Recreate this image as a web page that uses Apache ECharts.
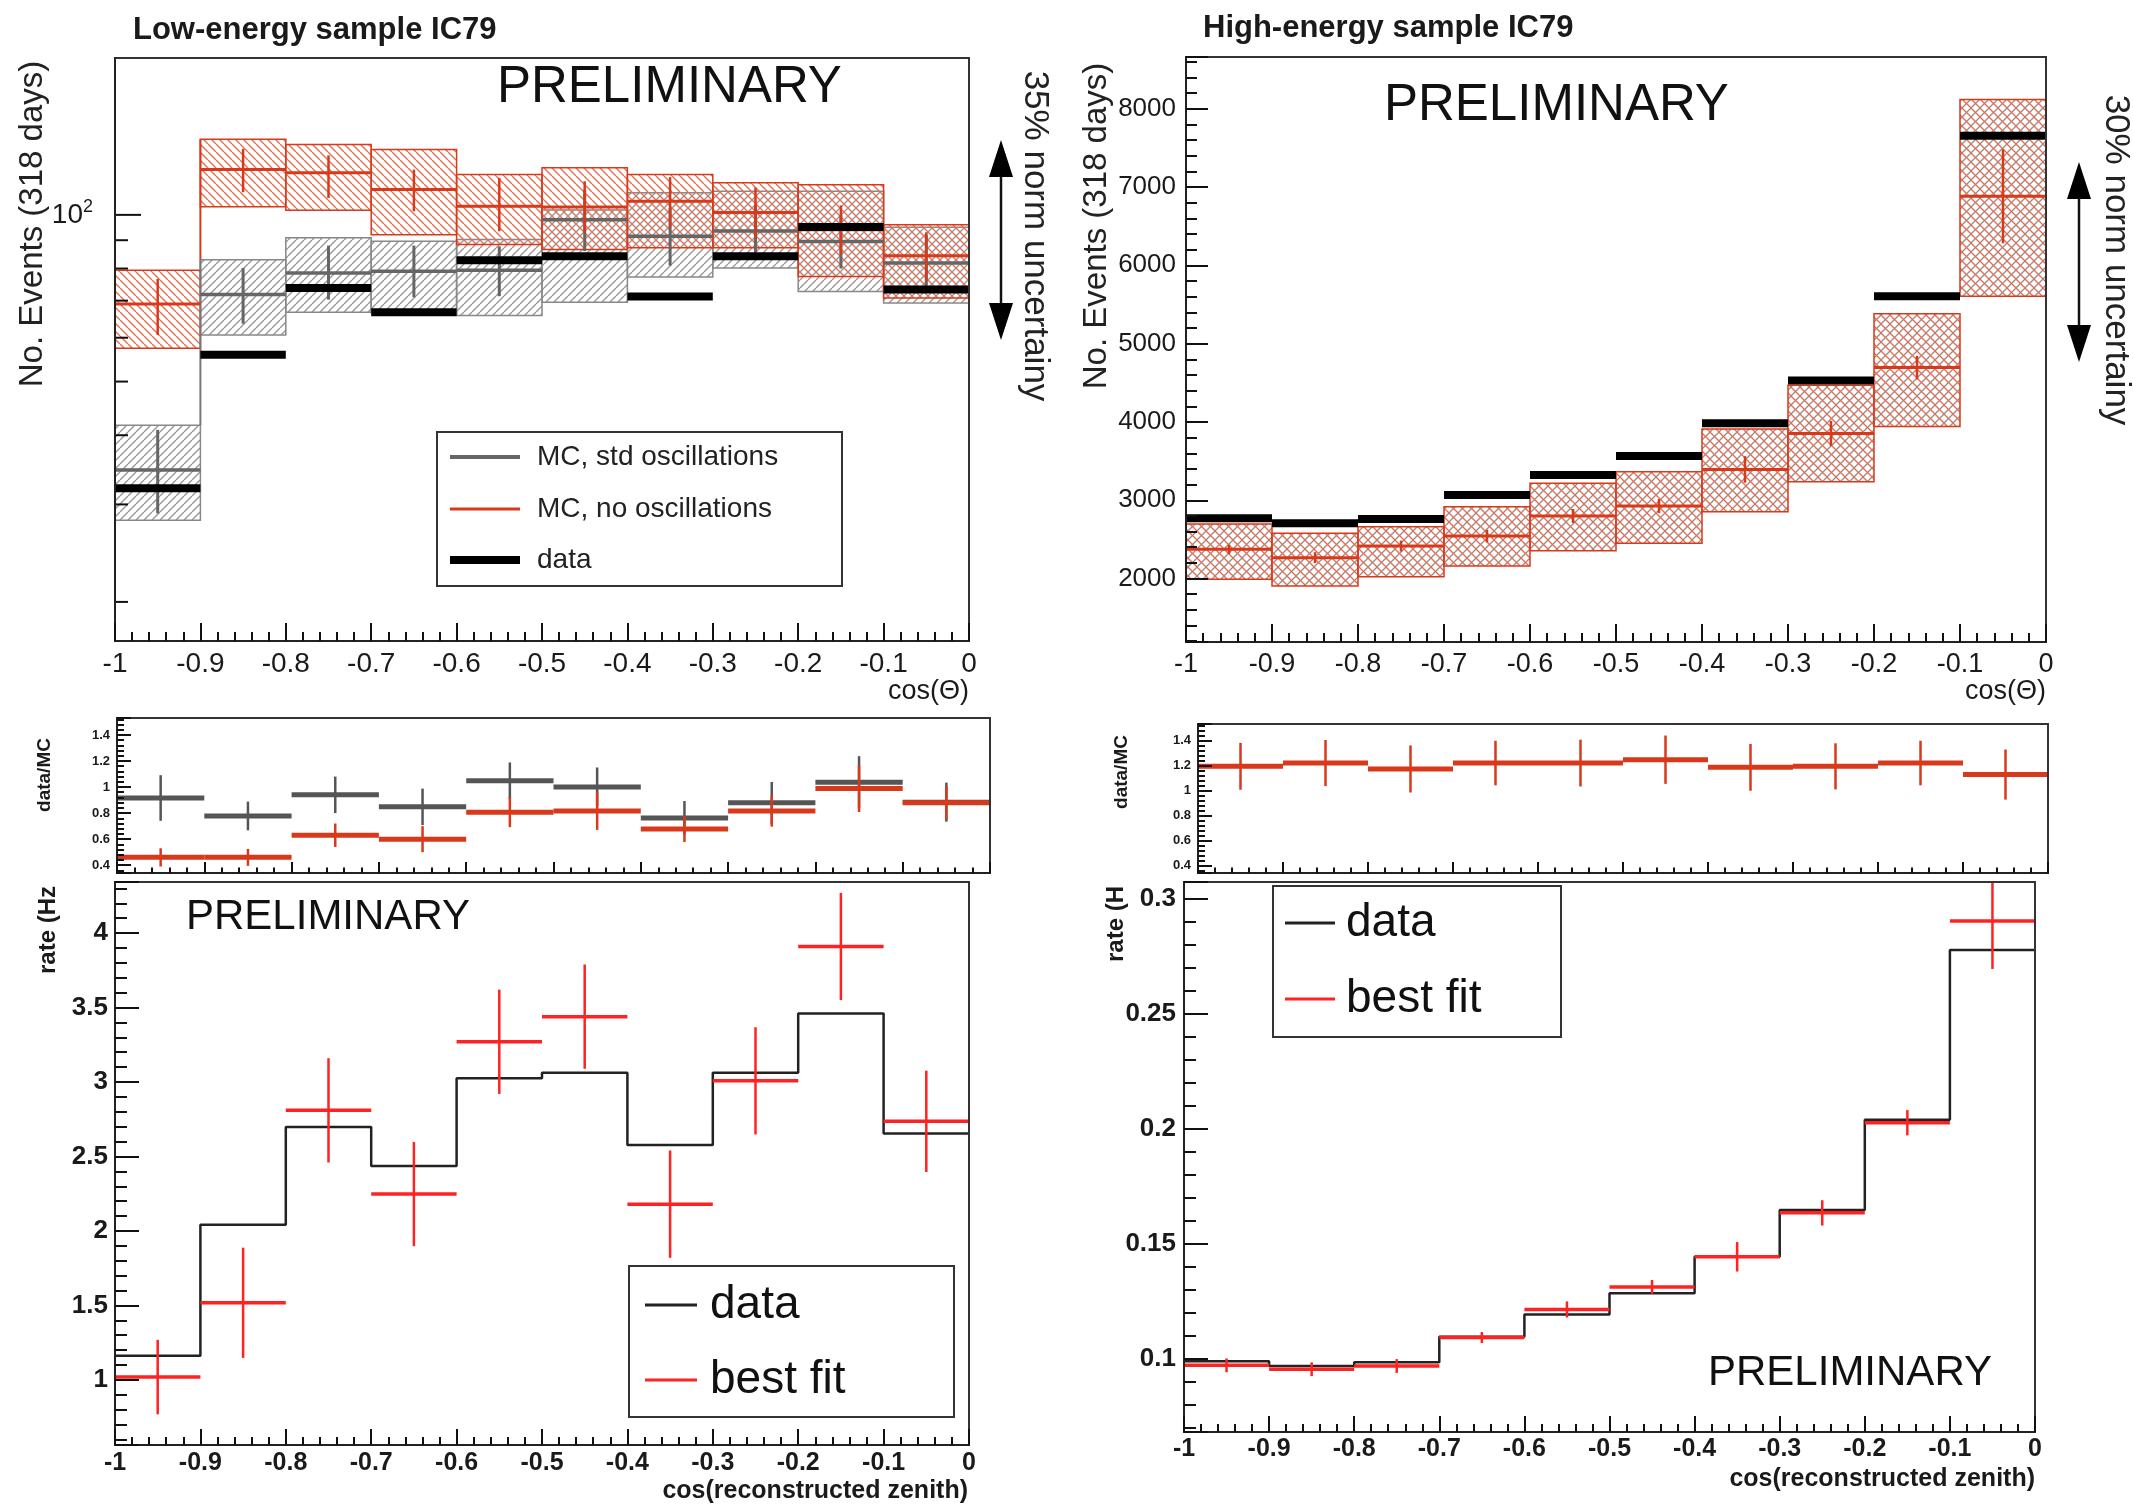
<!DOCTYPE html>
<html><head><meta charset="utf-8">
<script src="https://cdn.jsdelivr.net/npm/echarts@6/dist/echarts.min.js"></script>
<style>html,body{margin:0;padding:0;background:#fff}#c{width:2133px;height:1508px}</style>
</head><body><div id="c"></div>
<script>
// ---------------- DATA ----------------
const binEdges = [-1, -0.9, -0.8, -0.7, -0.6, -0.5, -0.4, -0.3, -0.2, -0.1, 0];

// Low-energy sample, events (log axis)
const leData        = [32.1, 55.9, 73.8, 66.7, 82.8, 84.2, 71.2, 84.2, 95.1, 73.3];
const leStd         = [34.6, 71.8, 78.5, 79.1, 79.4, 98.0, 91.5, 93.5, 89.5, 81.9];
const leStdErrLo    = [28.9, 63.6, 70.3, 71.0, 71.3, 86.0, 81.0, 83.0, 80.0, 73.0];
const leStdErrHi    = [40.9, 80.2, 88.0, 88.0, 87.7, 111.0, 103.0, 104.0, 100.0, 92.0];
const leStdBandLo   = [28.1, 60.7, 66.7, 66.5, 65.8, 69.5, 77.2, 80.2, 72.7, 69.3];
const leStdBandHi   = [41.7, 83.0, 90.9, 89.6, 90.3, 102.0, 109.6, 110.3, 110.3, 95.0];
const leNoOsc       = [69.0, 120.8, 119.1, 111.1, 103.7, 103.3, 105.8, 101.0, 94.0, 84.4];
const leNoOscErrLo  = [60.7, 109.9, 107.3, 101.5, 93.4, 93.0, 95.0, 91.0, 85.0, 76.0];
const leNoOscErrHi  = [76.6, 131.6, 128.1, 120.7, 116.6, 115.0, 117.0, 112.0, 104.0, 93.0];
const leNoOscBandLo = [57.4, 103.4, 101.9, 92.1, 88.4, 86.6, 87.2, 87.2, 77.4, 70.8];
const leNoOscBandHi = [79.4, 136.9, 134.0, 131.2, 118.3, 121.6, 118.3, 114.3, 113.4, 96.0];
const leLogTicks    = [20, 30, 40, 50, 60, 70, 80, 90, 100];

// High-energy sample, events
const heData   = [2769, 2705, 2760, 3067, 3322, 3564, 3983, 4529, 5605, 7653];
const heMC     = [2374, 2267, 2416, 2543, 2799, 2926, 3394, 3853, 4694, 6881];
const heMCErr  = [60, 70, 70, 80, 90, 90, 170, 160, 150, 600];
const heBandLo = [1991, 1906, 2024, 2161, 2356, 2450, 2852, 3235, 3941, 5605];
const heBandHi = [2697, 2578, 2663, 2918, 3216, 3364, 3911, 4470, 5382, 8118];

// data/MC ratios
const leRatioStd      = [0.916, 0.778, 0.94, 0.848, 1.049, 1.0, 0.763, 0.879, 1.037, 0.884];
const leRatioStdErr   = [0.175, 0.11, 0.14, 0.14, 0.14, 0.15, 0.13, 0.16, 0.2, 0.15];
const leRatioNoOsc    = [0.46, 0.46, 0.63, 0.6, 0.807, 0.816, 0.678, 0.816, 0.988, 0.879];
const leRatioNoOscErr = [0.07, 0.065, 0.09, 0.1, 0.115, 0.145, 0.1, 0.12, 0.18, 0.13];
const heRatio         = [1.192, 1.218, 1.171, 1.218, 1.218, 1.245, 1.184, 1.192, 1.218, 1.126];
const heRatioErr      = [0.187, 0.184, 0.188, 0.178, 0.187, 0.193, 0.187, 0.184, 0.178, 0.2];

// rates (Hz)
const leRate   = [1.163, 2.041, 2.698, 2.436, 3.025, 3.063, 2.578, 3.063, 3.46, 2.654];
const leFit    = [1.019, 1.518, 2.81, 2.248, 3.27, 3.439, 2.18, 3.008, 3.91, 2.736];
const leFitErr = [0.25, 0.37, 0.35, 0.35, 0.35, 0.35, 0.36, 0.36, 0.36, 0.34];
const heRate   = [0.0991, 0.097, 0.0986, 0.1097, 0.1194, 0.1286, 0.1445, 0.1648, 0.2041, 0.2779];
const heFit    = [0.0973, 0.0956, 0.097, 0.1094, 0.1216, 0.1314, 0.1445, 0.1636, 0.2028, 0.2905];
const heFitErr = [0.003, 0.003, 0.003, 0.0024, 0.0035, 0.003, 0.0064, 0.0055, 0.0055, 0.0208];

// ---------------- STYLE / LAYOUT ----------------
const FONT = '"Liberation Sans", Arial, Helvetica, sans-serif';
const LE_MIN = 17, LE_MAX = 192, HE_MIN = 1190, HE_MAX = 8660;
const RED = '#d9391b', RED_HATCH = '#ee6f50', GRAY = '#666', GRAY_HATCH = '#999', FIT_RED = '#ff2222';
const TICK = { color: '#111', width: 2 };

const nb = binEdges.length - 1;
const binLo = binEdges.slice(0, nb), binHi = binEdges.slice(1);
function rows(...cols) { return binLo.map((x, i) => [x, binHi[i], ...cols.map(c => c[i])]); }
const sub = (a, b) => a.map((v, i) => v - b[i]);
const add = (a, b) => a.map((v, i) => v + b[i]);

function makeHatch(specs, size) {
  const c = document.createElement('canvas'); c.width = c.height = size;
  const ctx = c.getContext('2d');
  specs.forEach(s => {
    ctx.strokeStyle = s.color; ctx.lineWidth = s.width;
    for (let k = -size; k <= size; k += size) {
      ctx.beginPath();
      if (s.dir === '/') { ctx.moveTo(k, size); ctx.lineTo(k + size, 0); }
      else { ctx.moveTo(k, 0); ctx.lineTo(k + size, size); }
      ctx.stroke();
    }
  });
  return { image: c, repeat: 'repeat' };
}
const grayHatch = makeHatch([{ dir: '/', color: GRAY_HATCH, width: 1.4 }], 8);
const redHatch = makeHatch([{ dir: '\\', color: RED_HATCH, width: 1.4 }], 8);
const crossHatch = makeHatch([{ dir: '/', color: '#9a8c8c', width: 1.3 }, { dir: '\\', color: '#ec6a4a', width: 1.3 }], 9);

function line(p, q, stroke, w) {
  return { type: 'line', shape: { x1: p[0], y1: p[1], x2: q[0], y2: q[1] }, style: { stroke, lineWidth: w } };
}
function bandRender(fill, stroke, extra) {
  return function (params, api) {
    const x0 = api.value(0), x1 = api.value(1), l = api.value(2), h = api.value(3);
    const p = api.coord([x0, h]), q = api.coord([x1, l]);
    const children = [{ type: 'rect', shape: { x: p[0], y: p[1], width: q[0] - p[0], height: q[1] - p[1] },
      style: { fill, stroke, lineWidth: 1.5 } }];
    if (extra) extra(params, api, children, x0, x1, l, h);
    return { type: 'group', children };
  };
}
function crossRender(color, hw, vw) {
  return function (params, api) {
    const x0 = api.value(0), x1 = api.value(1), v = api.value(2), lo = api.value(3), hi = api.value(4);
    const xm = (x0 + x1) / 2;
    return { type: 'group', children: [
      line(api.coord([x0, v]), api.coord([x1, v]), color, hw),
      line(api.coord([xm, lo]), api.coord([xm, hi]), color, vw)
    ] };
  };
}
function barRender(color, w) {
  return function (params, api) {
    return line(api.coord([api.value(0), api.value(2)]), api.coord([api.value(1), api.value(2)]), color, w);
  };
}
function custom(gi, data, renderItem, z, dims) {
  return { type: 'custom', xAxisIndex: gi, yAxisIndex: gi, data, renderItem, z: z || 2, clip: true,
    encode: { x: [0, 1], y: dims || [2, 3] }, silent: true, animation: false };
}
function stepLine(gi, vals, color, w) {
  return { type: 'line', xAxisIndex: gi, yAxisIndex: gi, step: 'end', symbol: 'none', animation: false, silent: true,
    data: binEdges.map((x, i) => [x, vals[Math.min(i, nb - 1)]]), lineStyle: { color, width: w }, z: 3 };
}

const fmtX = v => { const r = Math.round(v * 10) / 10; return r === 0 ? '0' : String(r); };
function fmtStep(step) {
  return v => { const k = v / step; if (Math.abs(k - Math.round(k)) > 1e-6) return ''; return String(+v.toFixed(4)); };
}

const grids = [
  { left: 115, top: 58, width: 854, height: 583 },
  { left: 1186, top: 57, width: 860, height: 585 },
  { left: 117, top: 718, width: 873, height: 155 },
  { left: 1198, top: 724, width: 850, height: 149 },
  { left: 115, top: 882, width: 854, height: 563 },
  { left: 1184, top: 882, width: 851, height: 550 }
].map(g => Object.assign({ show: true, borderColor: '#333', borderWidth: 2, containLabel: false, outerBoundsMode: 'none', backgroundColor: 'transparent', z: 10 }, g));

const axLine = { show: true, onZero: false, lineStyle: { color: '#222', width: 2 } };
function xAx(gi, tickLen, labelStyle) {
  return { type: 'value', gridIndex: gi, position: 'bottom', min: -1, max: 0, interval: 0.1, z: 20, splitLine: { show: false }, axisLine: axLine,
    axisTick: { show: true, inside: true, length: tickLen, lineStyle: TICK },
    minorTick: { show: true, splitNumber: 5, length: tickLen / 2, lineStyle: TICK },
    axisLabel: labelStyle ? Object.assign({ formatter: fmtX, color: '#1a1a1a', fontFamily: FONT }, labelStyle) : { show: false } };
}
function yAx(gi, min, max, split, step, tickLen, labelStyle) {
  return { type: 'value', gridIndex: gi, position: 'left', min, max, splitNumber: split, z: 20, splitLine: { show: false }, axisLine: axLine,
    axisTick: { show: true, inside: true, length: tickLen, lineStyle: TICK },
    minorTick: { show: true, splitNumber: 5, length: tickLen / 2, lineStyle: TICK },
    axisLabel: Object.assign({ formatter: fmtStep(step), color: '#1a1a1a', fontFamily: FONT, showMinLabel: true, showMaxLabel: true }, labelStyle) };
}

const xAxis = [
  xAx(0, 18, { fontSize: 28, margin: 9 }),
  xAx(1, 18, { fontSize: 27, margin: 9 }),
  xAx(2, 11, null),
  xAx(3, 11, null),
  xAx(4, 16, { fontSize: 25, fontWeight: 'bold', margin: 6 }),
  xAx(5, 16, { fontSize: 25, fontWeight: 'bold', margin: 5 })
];
const yAxis = [
  { type: 'log', logBase: 10, gridIndex: 0, position: 'left', min: LE_MIN, max: LE_MAX, z: 20, splitLine: { show: false }, axisLine: axLine,
    axisTick: { show: false }, minorTick: { show: false },
    axisLabel: { margin: 22, fontFamily: FONT, color: '#1a1a1a',
      formatter: v => (Math.abs(v - 100) < 0.5 ? '{b|10}{s|2}' : ''),
      rich: { b: { fontSize: 28, fontFamily: FONT, color: '#1a1a1a', lineHeight: 34 }, s: { fontSize: 18, fontFamily: FONT, color: '#1a1a1a', verticalAlign: 'top' } } } },
  yAx(1, HE_MIN, HE_MAX, 7, 1000, 22, { fontSize: 26, margin: 10 }),
  yAx(2, 0.34, 1.53, 6, 0.2, 14, { fontSize: 13, fontWeight: 'bold', margin: 7 }),
  yAx(3, 0.34, 1.53, 6, 0.2, 14, { fontSize: 13, fontWeight: 'bold', margin: 7 }),
  yAx(4, 0.563, 4.343, 7, 0.5, 24, { fontSize: 26, fontWeight: 'bold', margin: 7 }),
  yAx(5, 0.0683, 0.3075, 5, 0.05, 24, { fontSize: 26, fontWeight: 'bold', margin: 8 })
];

const series = [
  // ---- panel 1: low-energy events ----
  custom(0, rows(leStdBandLo, leStdBandHi), bandRender(grayHatch, '#888'), 2),
  custom(0, rows(leNoOscBandLo, leNoOscBandHi), bandRender(redHatch, RED, (params, api, ch, x0, x1, l, h) => {
    if (params.dataIndex === nb - 1) ch.push(line(api.coord([x1, h]), api.coord([x1, LE_MIN]), RED, 2));
    if (params.dataIndex === 1) {
      ch.push(line(api.coord([x0, h]), api.coord([x0, leStdBandHi[1]]), RED, 2));
      ch.push(line(api.coord([x0, leStdBandHi[1]]), api.coord([x0, leStdBandHi[0]]), '#777', 2));
    }
  }), 3),
  custom(0, rows(leStd, leStdErrLo, leStdErrHi), crossRender(GRAY, 3.5, 3), 4, [2, 3, 4]),
  custom(0, rows(leNoOsc, leNoOscErrLo, leNoOscErrHi), crossRender(RED, 3, 2.5), 5, [2, 3, 4]),
  custom(0, rows(leData), barRender('#000', 8), 6, [2]),
  { type: 'custom', xAxisIndex: 0, yAxisIndex: 0, silent: true, animation: false, z: 7,
    data: leLogTicks.map(v => [-1, v]), encode: { x: 0, y: 1 },
    renderItem: (params, api) => { const p = api.coord([api.value(0), api.value(1)]); const len = api.value(1) === 100 ? 26 : 13;
      return line(p, [p[0] + len, p[1]], '#111', 2); } },

  // ---- panel 2: high-energy events ----
  custom(1, rows(heBandLo, heBandHi), bandRender(crossHatch, RED, (params, api, ch, x0, x1, l, h) => {
    if (params.dataIndex === nb - 1) ch.push(line(api.coord([x1, h]), api.coord([x1, HE_MIN]), RED, 2));
  }), 2),
  custom(1, rows(heMC, sub(heMC, heMCErr), add(heMC, heMCErr)), crossRender(RED, 3, 2.5), 4, [2, 3, 4]),
  custom(1, rows(heData), barRender('#000', 8), 6, [2]),

  // ---- panel 3: low-energy ratio ----
  custom(2, rows(leRatioStd, sub(leRatioStd, leRatioStdErr), add(leRatioStd, leRatioStdErr)), crossRender('#555', 5, 2.5), 4, [2, 3, 4]),
  custom(2, rows(leRatioNoOsc, sub(leRatioNoOsc, leRatioNoOscErr), add(leRatioNoOsc, leRatioNoOscErr)), crossRender(RED, 5, 2.5), 5, [2, 3, 4]),

  // ---- panel 4: high-energy ratio ----
  custom(3, rows(heRatio, sub(heRatio, heRatioErr), add(heRatio, heRatioErr)), crossRender(RED, 5, 2.5), 5, [2, 3, 4]),

  // ---- panel 5: low-energy rate ----
  stepLine(4, leRate, '#222', 2.5),
  custom(4, rows(leFit, sub(leFit, leFitErr), add(leFit, leFitErr)), crossRender(FIT_RED, 3.5, 2.5), 5, [2, 3, 4]),

  // ---- panel 6: high-energy rate ----
  stepLine(5, heRate, '#222', 2.5),
  custom(5, rows(heFit, sub(heFit, heFitErr), add(heFit, heFitErr)), crossRender(FIT_RED, 3.5, 2.5), 5, [2, 3, 4])
];

// ---------------- annotations & legends ----------------
function T(text, x, y, size, o) {
  o = o || {};
  return { type: 'text', x, y, rotation: o.rot || 0, z: 100, silent: true,
    style: { text, fill: o.color || '#1a1a1a', font: (o.bold ? 'bold ' : '') + size + 'px ' + FONT,
      align: o.align || 'left', verticalAlign: 'middle', textAlign: o.align || 'left', textVerticalAlign: 'middle' } };
}
function L(x1, y1, x2, y2, stroke, w) {
  return { type: 'line', z: 101, silent: true, shape: { x1, y1, x2, y2 }, style: { stroke, lineWidth: w } };
}
function box(x, y, w, h) {
  return { type: 'rect', z: 99, silent: true, shape: { x, y, width: w, height: h }, style: { fill: '#fff', stroke: '#333', lineWidth: 2 } };
}
function arrow(x, y1, y2) {
  const hw = 12, hl = 37;
  return [
    L(x, y1 + hl - 2, x, y2 - hl + 2, '#111', 2.5),
    { type: 'polygon', z: 101, silent: true, shape: { points: [[x, y1], [x - hw, y1 + hl], [x + hw, y1 + hl]] }, style: { fill: '#000' } },
    { type: 'polygon', z: 101, silent: true, shape: { points: [[x, y2], [x - hw, y2 - hl], [x + hw, y2 - hl]] }, style: { fill: '#000' } }
  ];
}
const R90 = Math.PI / 2;
const graphic = [
  T('Low-energy sample IC79', 133, 30, 31, { bold: true }),
  T('High-energy sample IC79', 1203, 28, 31, { bold: true }),
  T('No. Events (318 days)', 33, 224, 33, { rot: R90, align: 'center', color: '#222' }),
  T('No. Events (318 days)', 1097, 226, 33, { rot: R90, align: 'center', color: '#222' }),
  T('35% norm uncertainy', 1035, 236, 35, { rot: -R90, align: 'center', color: '#222' }),
  T('30% norm uncertainy', 2116, 260, 35, { rot: -R90, align: 'center', color: '#222' }),
  ...arrow(1001, 140, 340),
  ...arrow(2079, 162, 362),
  T('PRELIMINARY', 497, 88, 51, { color: '#111' }),
  T('PRELIMINARY', 1384, 106, 51, { color: '#111' }),
  T('PRELIMINARY', 186, 917, 42, { color: '#111' }),
  T('PRELIMINARY', 1708, 1373, 42, { color: '#111' }),
  T('cos(\u0398)', 969, 692, 27, { align: 'right' }),
  T('cos(\u0398)', 2046, 692, 27, { align: 'right' }),
  T('cos(reconstructed zenith)', 968, 1491, 25, { align: 'right', bold: true }),
  T('cos(reconstructed zenith)', 2035, 1479, 25, { align: 'right', bold: true }),
  T('data/MC', 45, 775, 19, { rot: R90, align: 'center', bold: true }),
  T('data/MC', 1122, 772, 19, { rot: R90, align: 'center', bold: true }),
  T('rate (Hz', 48, 930, 24, { rot: R90, align: 'center', bold: true }),
  T('rate (H', 1116, 924, 24, { rot: R90, align: 'center', bold: true }),
  // legend, panel 1
  box(437, 432, 405, 154),
  L(450, 457, 520, 457, GRAY, 4), T('MC, std oscillations', 537, 457, 28, { color: '#222' }),
  L(450, 509, 520, 509, RED, 3), T('MC, no oscillations', 537, 509, 28, { color: '#222' }),
  L(450, 560, 520, 560, '#000', 8), T('data', 537, 560, 28, { color: '#222' }),
  // legend, panel 5
  box(629, 1266, 325, 151),
  L(645, 1305, 697, 1305, '#222', 3), T('data', 710, 1305, 46, { color: '#111' }),
  L(645, 1380, 697, 1380, FIT_RED, 3), T('best fit', 710, 1380, 46, { color: '#111' }),
  // legend, panel 6
  box(1273, 886, 288, 151),
  L(1285, 923, 1335, 923, '#222', 3), T('data', 1346, 923, 46, { color: '#111' }),
  L(1285, 999, 1335, 999, FIT_RED, 3), T('best fit', 1346, 999, 46, { color: '#111' })
];

const chart = echarts.init(document.getElementById('c'), null, { renderer: 'canvas' });
chart.setOption({ animation: false, backgroundColor: '#fff', grid: grids, xAxis, yAxis, series, graphic });
</script></body></html>
